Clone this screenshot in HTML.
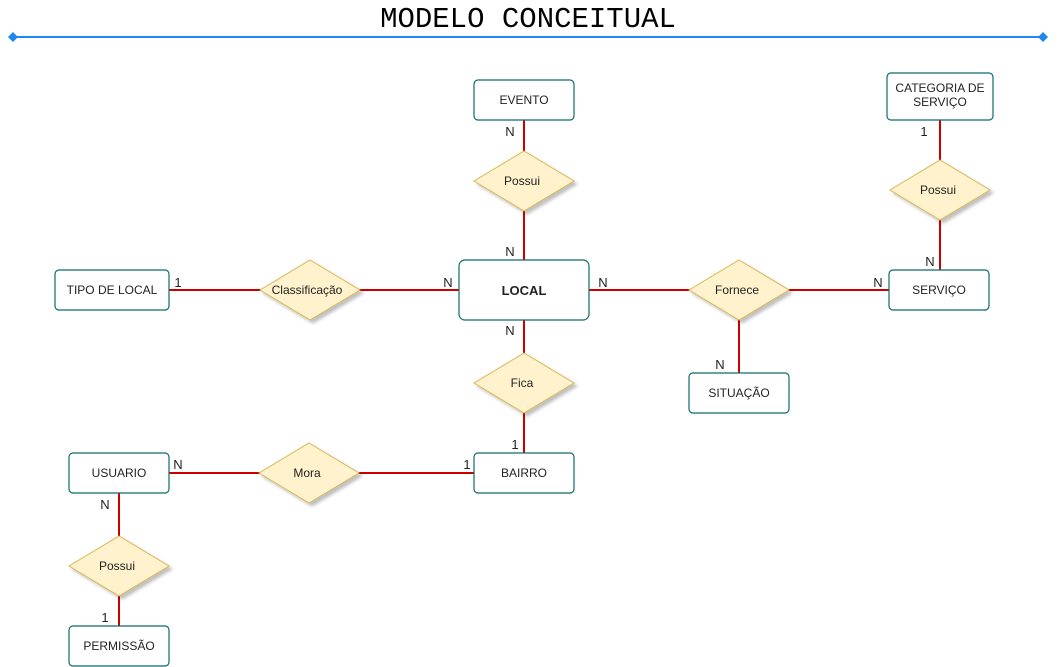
<!DOCTYPE html>
<html><head><meta charset="utf-8"><style>body{margin:0;background:#fff}svg{display:block}</style></head>
<body>
<svg width="1061" height="667" xmlns="http://www.w3.org/2000/svg" font-family="Liberation Sans, sans-serif">
<defs><filter id="s" x="-20%" y="-20%" width="150%" height="150%"><feDropShadow dx="3" dy="3" stdDeviation="1.5" flood-color="#000" flood-opacity="0.25"/></filter></defs>
<text x="528" y="27" font-family="Liberation Mono, monospace" font-size="29" text-anchor="middle" fill="#000">MODELO CONCEITUAL</text>
<line x1="13" y1="37" x2="1043" y2="37" stroke="#1e88f0" stroke-width="2"/>
<path d="M13 32 L18 37 L13 42 L8 37Z M1043 32 L1048 37 L1043 42 L1038 37Z" fill="#1e88f0"/>
<g stroke="#cc0000" stroke-width="2">
<line x1="524" y1="120" x2="524" y2="260"/>
<line x1="169" y1="290" x2="459" y2="290"/>
<line x1="589" y1="290" x2="889" y2="290"/>
<line x1="739" y1="290" x2="739" y2="373"/>
<line x1="940" y1="120" x2="940" y2="270"/>
<line x1="524" y1="320" x2="524" y2="453"/>
<line x1="169" y1="473" x2="474" y2="473"/>
<line x1="119" y1="493" x2="119" y2="626"/>
</g>
<g fill="#fff2cc" stroke="#d6b656" filter="url(#s)">
<path d="M524 151 L574 181 L524 211 L474 181Z"/>
<path d="M310 260 L360 290 L310 320 L260 290Z"/>
<path d="M739 260 L789 290 L739 320 L689 290Z"/>
<path d="M940 160 L990 190 L940 220 L890 190Z"/>
<path d="M524 353 L574 383 L524 413 L474 383Z"/>
<path d="M309 443 L359 473 L309 503 L259 473Z"/>
<path d="M119 536 L169 566 L119 596 L69 566Z"/>
</g>
<g fill="#fff" stroke="#0e6b6b" stroke-width="1.2">
<rect x="474" y="80" width="100" height="40" rx="4"/>
<rect x="887" y="73" width="106" height="47" rx="4"/>
<rect x="55" y="270" width="114" height="40" rx="4"/>
<rect x="459" y="260" width="130" height="60" rx="6"/>
<rect x="889" y="270" width="100" height="40" rx="4"/>
<rect x="689" y="373" width="100" height="40" rx="4"/>
<rect x="69" y="453" width="100" height="40" rx="4"/>
<rect x="474" y="453" width="100" height="40" rx="4"/>
<rect x="69" y="626" width="100" height="40" rx="4"/>
</g>
<g font-size="12" fill="#222" text-anchor="middle">
<text x="524" y="104">EVENTO</text>
<text x="940" y="92">CATEGORIA DE</text><text x="940" y="106">SERVIÇO</text>
<text x="112" y="294">TIPO DE LOCAL</text>
<text x="524" y="295" font-weight="bold" font-size="13">LOCAL</text>
<text x="939" y="294">SERVIÇO</text>
<text x="739" y="397">SITUAÇÃO</text>
<text x="119" y="477">USUARIO</text>
<text x="524" y="477">BAIRRO</text>
<text x="119" y="650">PERMISSÃO</text>
<text x="522" y="185">Possui</text>
<text x="307" y="294">Classificação</text>
<text x="737" y="294">Fornece</text>
<text x="938" y="194">Possui</text>
<text x="522" y="387">Fica</text>
<text x="307" y="477">Mora</text>
<text x="117" y="570">Possui</text>
</g>
<g font-size="13" fill="#222" text-anchor="middle">
<text x="510" y="136">N</text>
<text x="510" y="256">N</text>
<text x="178" y="287">1</text>
<text x="448" y="287">N</text>
<text x="603" y="287">N</text>
<text x="878" y="287">N</text>
<text x="924" y="136">1</text>
<text x="930" y="266">N</text>
<text x="720" y="369">N</text>
<text x="510" y="335">N</text>
<text x="515" y="449">1</text>
<text x="178" y="469">N</text>
<text x="467" y="469">1</text>
<text x="105" y="509">N</text>
<text x="105" y="622">1</text>
</g>
</svg>
</body></html>
